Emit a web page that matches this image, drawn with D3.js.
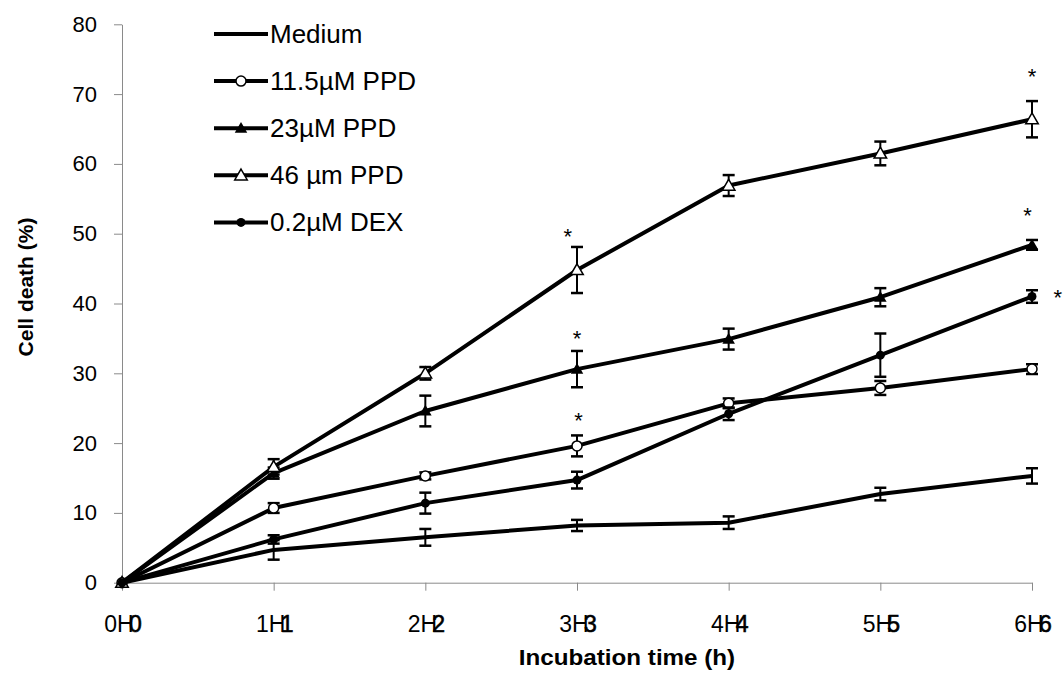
<!DOCTYPE html>
<html>
<head>
<meta charset="utf-8">
<script src="https://cdn.jsdelivr.net/npm/d3@7"></script>
<style>
  body { margin: 0; background: #fff; }
  svg { display: block; font-family: "Liberation Sans", Arial, sans-serif; }
</style>
</head>
<body>
<svg id="chart" width="1064" height="685"></svg>
<script>
// hours on the x axis
const hours = [0, 1, 2, 3, 4, 5, 6];
const yTicks = [0, 10, 20, 30, 40, 50, 60, 70, 80];

// series (mean cell death %) and their error bars
const medium    = [0, 4.7, 6.5, 8.2, 8.6, 12.7, 15.3];
const mediumErr = [0, 1.4, 1.2, 0.8, 0.9, 0.9, 1.1];
const ppd11     = [0, 10.7, 15.3, 19.6, 25.7, 27.9, 30.6];
const ppd11Err  = [0, 0.7, 0.5, 1.5, 0.7, 1.0, 0.7];
const ppd23     = [0, 15.7, 24.6, 30.6, 34.9, 40.9, 48.4];
const ppd23Err  = [0, 0.8, 2.2, 2.6, 1.5, 1.3, 0.7];
const ppd46     = [0, 16.6, 30.0, 44.8, 56.9, 61.5, 66.4];
const ppd46Err  = [0, 1.1, 0.9, 3.3, 1.5, 1.7, 2.6];
const dex       = [0, 6.2, 11.4, 14.7, 24.2, 32.6, 41.0];
const dexErr    = [0, 0.6, 1.5, 1.2, 0.9, 3.1, 0.9];

const seriesNames = ["Medium", "11.5\u00b5M PPD", "23\u00b5M PPD", "46 \u00b5m PPD", "0.2\u00b5M DEX"];
const markers = ["none", "circleOpen", "triangleFilled", "triangleOpen", "circleFilled"];

// significance stars (hour, value position)
const starHours  = [2.94, 3.0, 3.01, 6.0, 5.97, 6.17];
const starValues = [50.3, 35.6, 23.9, 73.1, 53.2, 41.5];

const series = [
  {name: seriesNames[0], vals: medium, errs: mediumErr, marker: markers[0]},
  {name: seriesNames[1], vals: ppd11, errs: ppd11Err, marker: markers[1]},
  {name: seriesNames[2], vals: ppd23, errs: ppd23Err, marker: markers[2]},
  {name: seriesNames[3], vals: ppd46, errs: ppd46Err, marker: markers[3]},
  {name: seriesNames[4], vals: dex, errs: dexErr, marker: markers[4]}
];

const svg = d3.select("#chart");
const axisColor = "#8a8a8a";

const x = d3.scaleLinear().domain([0, 6]).range([122, 1032]);
const y = d3.scaleLinear().domain([0, 80]).range([582.7, 24.3]);

// y axis
const yAxis = svg.append("g")
    .attr("transform", `translate(${x(0)},0)`)
    .call(d3.axisLeft(y).tickValues(yTicks).tickSize(8).tickSizeOuter(0).tickPadding(17));
yAxis.select(".domain").attr("stroke", axisColor);
yAxis.selectAll(".tick line").attr("stroke", axisColor);
yAxis.selectAll(".tick text")
    .attr("font-size", 22)
    .attr("fill", "#000")
    .attr("font-family", "Liberation Sans, Arial, sans-serif");

// x axis (labels drawn by hand below)
const xAxis = svg.append("g")
    .attr("transform", `translate(0,${y(0)})`)
    .call(d3.axisBottom(x).tickValues(hours).tickSize(8).tickSizeOuter(0).tickFormat(""));
xAxis.select(".domain").attr("stroke", axisColor);
xAxis.selectAll(".tick line").attr("stroke", axisColor);

// doubled x tick labels ("0H" with an overlaid "0")
const xl = svg.append("g").attr("font-size", 23).attr("fill", "#000");
xl.selectAll("text.h")
    .data(hours)
    .join("text")
    .attr("class", "h")
    .attr("x", d => x(d) - 3)
    .attr("y", 632)
    .attr("text-anchor", "middle")
    .text(d => d + "H");
xl.selectAll("text.n")
    .data(hours)
    .join("text")
    .attr("class", "n")
    .attr("x", d => x(d) + 7)
    .attr("y", 632)
    .attr("text-anchor", "start")
    .attr("stroke", "#000")
    .attr("stroke-width", 0.6)
    .text(d => d);

// axis titles
svg.append("text")
    .attr("transform", "translate(627,665) scale(1.1,1)")
    .attr("text-anchor", "middle")
    .attr("font-size", 22)
    .attr("font-weight", "bold")
    .text("Incubation time (h)");

svg.append("text")
    .attr("transform", "translate(33,287) rotate(-90)")
    .attr("text-anchor", "middle")
    .attr("font-size", 21)
    .attr("font-weight", "bold")
    .text("Cell death (%)");

const line = d3.line()
    .x((d, i) => x(hours[i]))
    .y(d => y(d));

const triangle = d3.symbol().type(d3.symbolTriangle).size(68);

function drawMarker(g, type) {
  if (type === "circleOpen") {
    g.append("circle").attr("r", 5).attr("fill", "#fff").attr("stroke", "#000").attr("stroke-width", 1.5);
  } else if (type === "circleFilled") {
    g.append("circle").attr("r", 4.5).attr("fill", "#000");
  } else if (type === "triangleFilled") {
    g.append("path").attr("d", triangle()).attr("transform", "translate(0,1)").attr("fill", "#000");
  } else if (type === "triangleOpen") {
    g.append("path").attr("d", triangle()).attr("transform", "translate(0,1)")
        .attr("fill", "#fff").attr("stroke", "#000").attr("stroke-width", 1.5);
  }
}

const plot = svg.append("g");

series.forEach(s => {
  const g = plot.append("g");

  g.append("path")
      .datum(s.vals)
      .attr("fill", "none")
      .attr("stroke", "#000")
      .attr("stroke-width", 4)
      .attr("stroke-linejoin", "round")
      .attr("d", line);

  // error bars
  const eb = g.selectAll("g.err")
      .data(s.vals.map((v, i) => ({t: hours[i], v: v, e: s.errs[i]})).filter(d => d.e > 0))
      .join("g")
      .attr("class", "err")
      .attr("stroke", "#000");
  eb.append("line")
      .attr("x1", d => x(d.t)).attr("x2", d => x(d.t))
      .attr("y1", d => y(d.v - d.e)).attr("y2", d => y(d.v + d.e))
      .attr("stroke-width", 2);
  eb.append("line")
      .attr("x1", d => x(d.t) - 6).attr("x2", d => x(d.t) + 6)
      .attr("y1", d => y(d.v + d.e)).attr("y2", d => y(d.v + d.e))
      .attr("stroke-width", 2.5);
  eb.append("line")
      .attr("x1", d => x(d.t) - 6).attr("x2", d => x(d.t) + 6)
      .attr("y1", d => y(d.v - d.e)).attr("y2", d => y(d.v - d.e))
      .attr("stroke-width", 2.5);

  // markers
  s.vals.forEach((v, i) => {
    const m = g.append("g").attr("transform", `translate(${x(hours[i])},${y(v)})`);
    drawMarker(m, s.marker);
  });
});

// stars
svg.append("g")
    .selectAll("text")
    .data(starHours.map((h, i) => ({h: h, v: starValues[i]})))
    .join("text")
    .attr("x", d => x(d.h))
    .attr("y", d => y(d.v) + 12)
    .attr("text-anchor", "middle")
    .attr("font-size", 22)
    .text("*");

// legend
const legend = svg.append("g").attr("transform", "translate(214,34)");
const rows = legend.selectAll("g")
    .data(series)
    .join("g")
    .attr("transform", (d, i) => `translate(0,${i * 47.1})`);
rows.append("line")
    .attr("x1", 0).attr("x2", 54)
    .attr("stroke", "#000")
    .attr("stroke-width", 4);
rows.each(function(d) {
  const m = d3.select(this).append("g").attr("transform", "translate(27,0)");
  drawMarker(m, d.marker);
});
rows.append("text")
    .attr("x", 56)
    .attr("y", 9)
    .attr("font-size", 26)
    .text(d => d.name);
</script>
</body>
</html>
